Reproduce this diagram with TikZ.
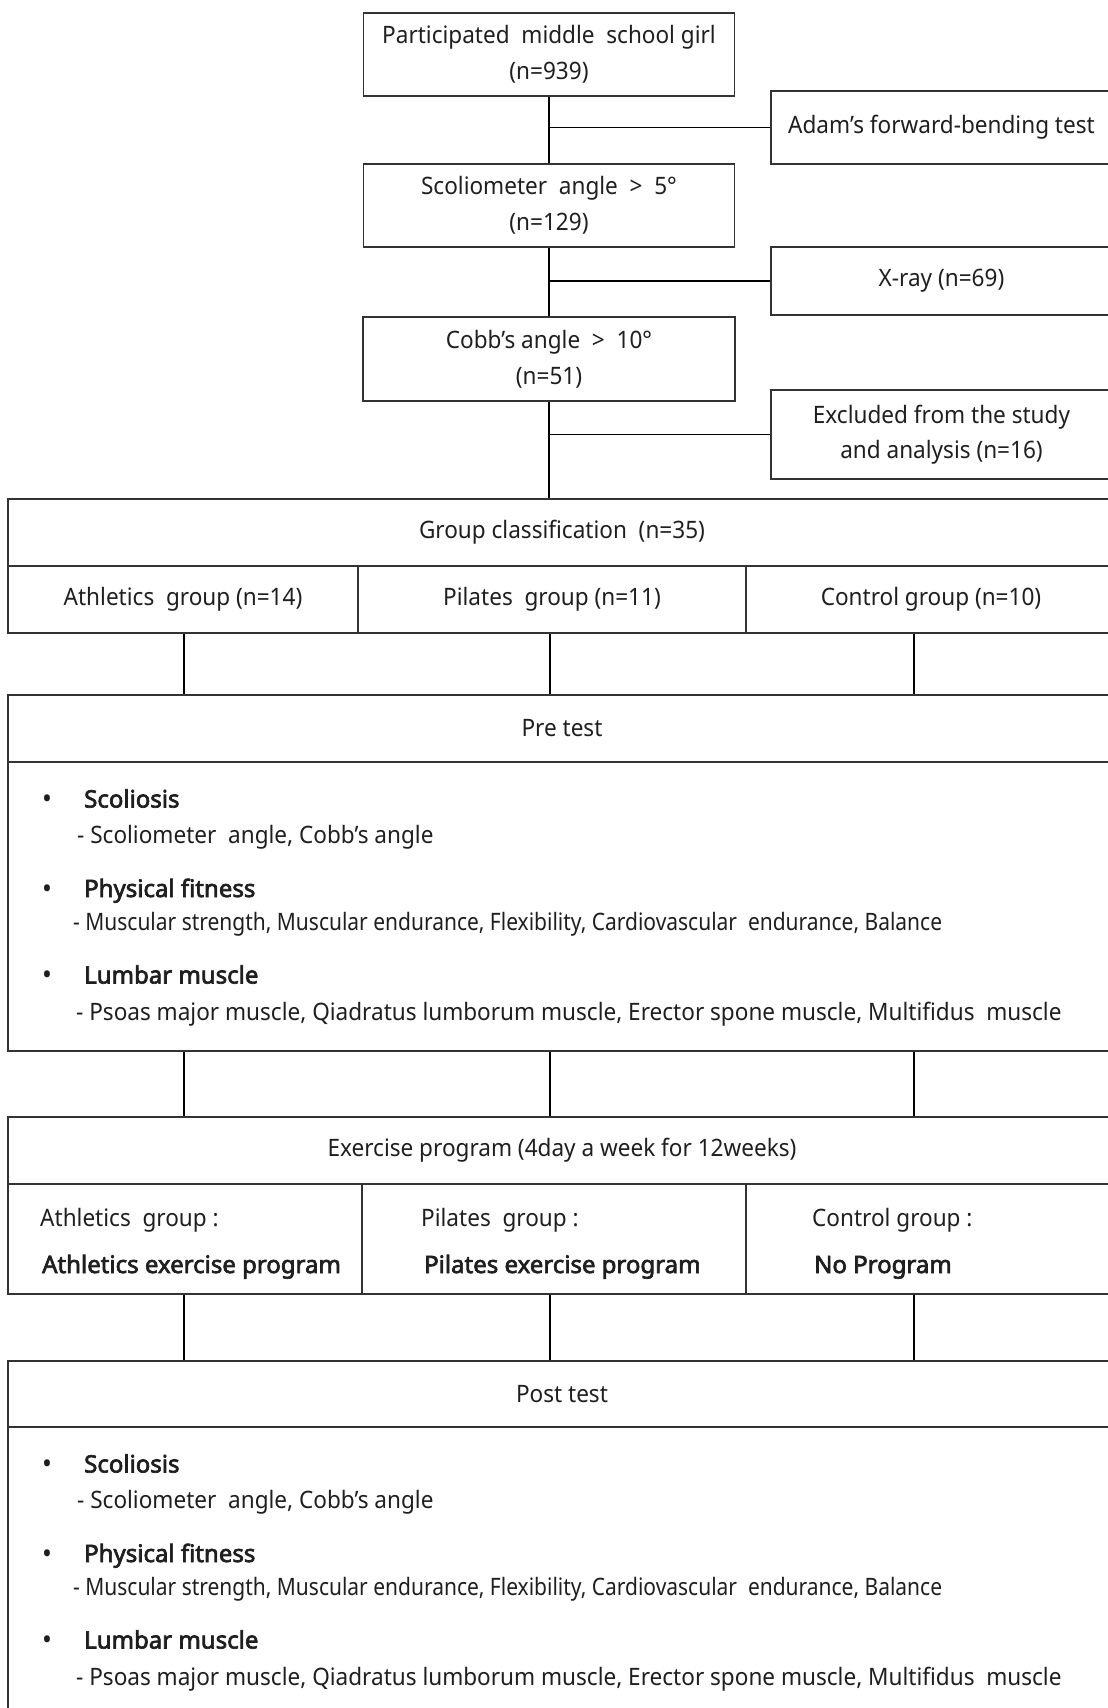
\documentclass[tikz,border=0pt]{standalone}
\usepackage{graphicx}
\usepackage{fontspec}
\setmainfont{Noto Sans}[FakeStretch=0.94]
\newfontfamily\heavyface{Noto Sans}[FakeStretch=1.0, FakeBold=2.8]
\begin{document}
\begin{tikzpicture}[x=1pt,y=-1pt,
  bx/.style={draw=black!80, line width=1.8pt, inner sep=0pt, align=center,
    font=\fontsize{24}{36}\selectfont, text=black!88},
  conn/.style={draw=black, line width=1.3pt},
  txt/.style={anchor=west, inner sep=0pt, font=\fontsize{24}{28}\selectfont, text=black!88,
    text height=17pt, text depth=5pt},
  ttl/.style={txt, font=\fontsize{24}{28}\heavyface},
  bul/.style={anchor=center, inner sep=0pt, font=\fontsize{28}{28}\selectfont, text=black!88}
]
\useasboundingbox (0,0) rectangle (1108,1708);
\clip (0,0) rectangle (1108,1708);
\fill[white] (0,0) rectangle (1108,1708);

% top flow
\node[bx, minimum width=371pt, minimum height=83pt] (b1) at (549,54.5) {Participated\ \ middle\ \ school girl\\(n=939)};
\node[bx, minimum width=371pt, minimum height=83pt] (b2) at (549,205.5) {Scoliometer\ \ angle \ > \ 5°\\(n=129)};
\node[bx, minimum width=372pt, minimum height=84pt] (b3) at (549,359) {Cobb’s angle \ > \ 10°\\(n=51)};
\node[bx, minimum width=341pt, minimum height=73pt] (adam) at (941.5,127.5) {Adam’s forward-bending test};
\node[bx, minimum width=341pt, minimum height=68pt] (xray) at (941.5,281) {X-ray (n=69)};
\node[bx, minimum width=341pt, minimum height=89pt, font=\fontsize{24}{35}\selectfont] (excl) at (941.5,434.5) {Excluded from the study\\and analysis (n=16)};

% group classification
\node[bx, minimum width=1108pt, minimum height=67pt] (gc) at (562,532.5) {Group classification\ \ (n=35)};
\node[bx, minimum width=350pt, minimum height=67pt] (ath) at (183,599.5) {Athletics\ \ group (n=14)};
\node[bx, minimum width=388pt, minimum height=67pt] (pil) at (552,599.5) {Pilates\ \ group (n=11)};
\node[bx, minimum width=370pt, minimum height=67pt] (con) at (931,599.5) {Control group (n=10)};

% pre test
\node[bx, minimum width=1108pt, minimum height=67pt] (pre) at (562,728.5) {Pre test};
\node[bx, minimum width=1108pt, minimum height=289pt] (preb) at (562,906.5) {};

% exercise
\node[bx, minimum width=1108pt, minimum height=67pt] (ex) at (562,1150.5) {Exercise program (4day a week for 12weeks)};
\node[bx, minimum width=354pt, minimum height=110pt] (exa) at (185,1239) {};
\node[bx, minimum width=384pt, minimum height=110pt] (exp) at (554,1239) {};
\node[bx, minimum width=370pt, minimum height=110pt] (exc) at (931,1239) {};

% post test
\node[bx, minimum width=1108pt, minimum height=66pt] (post) at (562,1394) {Post test};
\node[bx, minimum width=1108pt, minimum height=289pt] (postb) at (562,1571.5) {};

% connectors top
\draw[conn] (b1.south) -- (b2.north);
\draw[conn] (b2.south) -- (b3.north);
\draw[conn] (b3.south) -- (b3.south |- gc.north);
\draw[conn] (b1.south |- adam.west) -- (adam.west);
\draw[conn] (b2.south |- xray.west) -- (xray.west);
\draw[conn] (b3.south |- excl.west) -- (excl.west);

% vertical connectors between stages
\coordinate (k1) at (184,0);
\coordinate (k2) at (550,0);
\coordinate (k3) at (914,0);
\foreach \k in {k1,k2,k3} {
  \draw[conn] (\k |- ath.south) -- (\k |- pre.north);
  \draw[conn] (\k |- preb.south) -- (\k |- ex.north);
  \draw[conn] (\k |- exa.south) -- (\k |- post.north);
}

% exercise cell texts
\node[txt] (ea1) at (40,1220) {Athletics\ \ group :};
\node[ttl] (ea2) at (42,1267) {Athletics exercise program};
\node[txt] (ep1) at (421,1220) {Pilates\ \ group :};
\node[ttl] (ep2) at (424,1267) {Pilates exercise program};
\node[txt] (ec1) at (812,1220) {Control group :};
\node[ttl] (ec2) at (814,1267) {No Program};

% test body contents
\newcommand\testitems[2]{%
  \node[bul] (#1b1) at (47,#2+40) {•};
  \node[ttl] (#1t1) at (84,#2+39.5) {Scoliosis};
  \node[txt] (#1s1) at (77,#2+75.5) {- Scoliometer\ \ angle, Cobb’s angle};
  \node[bul] (#1b2) at (47,#2+129.5) {•};
  \node[ttl] (#1t2) at (84,#2+129) {Physical fitness};
  \node[txt] (#1s2) at (73,#2+162.5) {\scalebox{0.93}[1]{- Muscular strength, Muscular endurance, Flexibility, Cardiovascular\ \ endurance, Balance}};
  \node[bul] (#1b3) at (47,#2+216) {•};
  \node[ttl] (#1t3) at (84,#2+215.5) {Lumbar muscle};
  \node[txt] (#1s3) at (76,#2+252) {- Psoas major muscle, Qiadratus lumborum muscle, Erector spone muscle, Multifidus\ \ muscle};
}
\testitems{pr}{762}
\testitems{po}{1427}
\end{tikzpicture}
\end{document}
